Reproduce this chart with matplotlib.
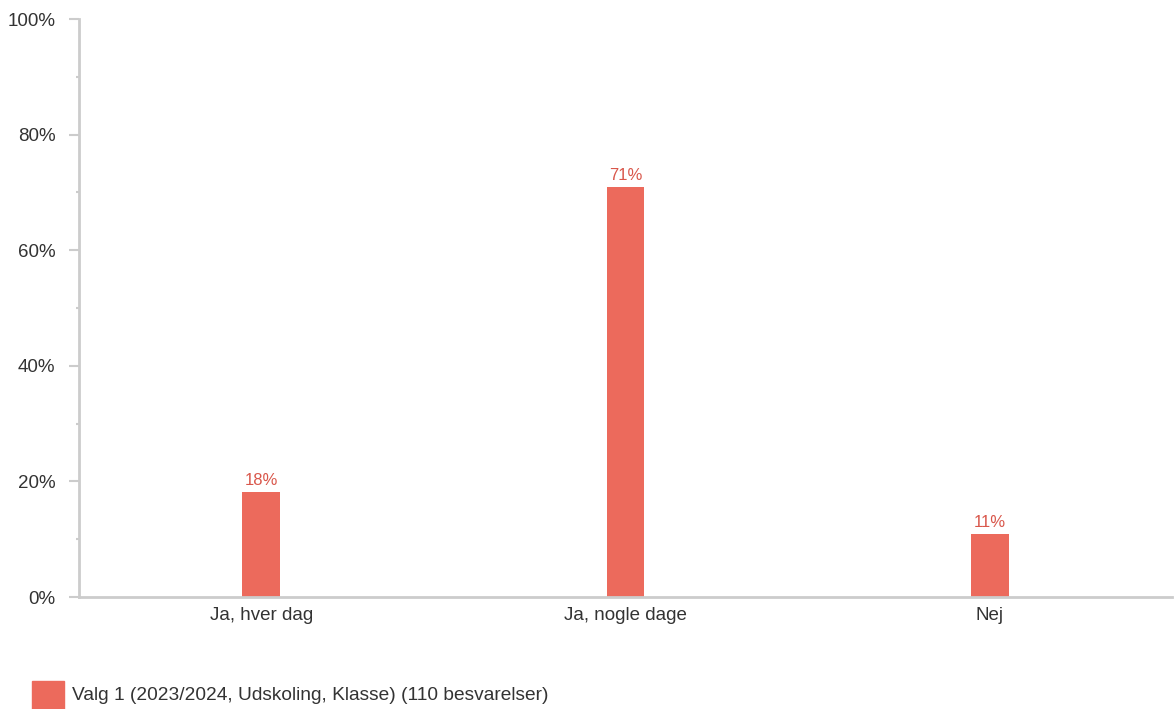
import matplotlib
matplotlib.use("Agg")
import matplotlib.pyplot as plt
from matplotlib.patches import Rectangle
from matplotlib.ticker import MultipleLocator, FuncFormatter

categories = ["Ja, hver dag", "Ja, nogle dage", "Nej"]
values = [18.2, 70.9, 10.9]
labels = ["18%", "71%", "11%"]
series_name = "Valg 1 (2023/2024, Udskoling, Klasse) (110 besvarelser)"

bar_color = "#EC6A5C"
label_color = "#D9574B"
axis_color = "#CCCCCC"
text_color = "#333333"

plt.rcParams['font.family'] = ['Liberation Sans', 'DejaVu Sans']

W, H = 1174, 709
fig = plt.figure(figsize=(W / 100, H / 100), dpi=100)
ax = fig.add_axes([79 / W, 1 - 597 / H, (1172 - 79) / W, (597 - 19) / H])

x = range(len(categories))
bars = ax.bar(x, values, width=0.104, color=bar_color, zorder=2)
for xi, v, lab in zip(x, values, labels):
    ax.annotate(lab, (xi, v), xytext=(0, 3), textcoords="offset points",
                ha="center", va="bottom", fontsize=12, color=label_color)

ax.set_xlim(-0.5, 2.5)
ax.set_ylim(0, 100)
ax.set_xticks(list(x))
ax.set_xticklabels(categories, fontsize=13.5, color=text_color)
ax.yaxis.set_major_locator(MultipleLocator(20))
ax.yaxis.set_minor_locator(MultipleLocator(10))
ax.yaxis.set_major_formatter(FuncFormatter(lambda v, p: f"{int(v)}%"))
ax.tick_params(axis="y", which="major", length=7.5, width=1.5, color=axis_color,
               labelsize=13.5, labelcolor=text_color, pad=9.5)
ax.tick_params(axis="y", which="minor", length=2.5, width=1.5, color=axis_color)
ax.tick_params(axis="x", length=0, pad=7)

for s in ["top", "right"]:
    ax.spines[s].set_visible(False)
for s in ["left", "bottom"]:
    ax.spines[s].set_color(axis_color)
    ax.spines[s].set_linewidth(2)

# legend
fig.patches.append(Rectangle((32 / W, 1 - 709 / H), 32 / W, 28 / H,
                             transform=fig.transFigure, color=bar_color))
fig.text(72 / W, 1 - 695 / H, series_name, fontsize=13.8, color=text_color,
         va="center", ha="left")

fig.savefig("out.png", dpi=100)
